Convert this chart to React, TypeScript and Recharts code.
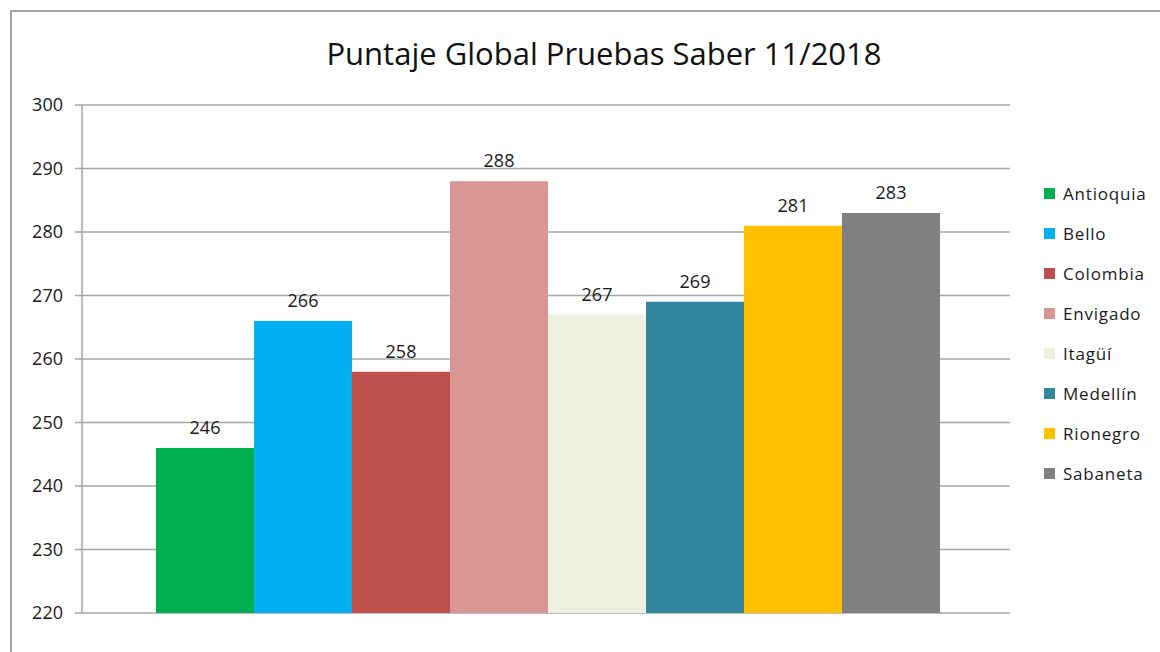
import React from "react";
import { BarChart, Bar, XAxis, YAxis, CartesianGrid, Legend, LabelList } from "recharts";

const TITLE = "Puntaje Global Pruebas Saber 11/2018";
const CATEGORY = "2018";
const SERIES = ["Antioquia", "Bello", "Colombia", "Envigado", "Itagüí", "Medellín", "Rionegro", "Sabaneta"];
const VALUES = [246, 266, 258, 288, 267, 269, 281, 283];
const COLORS = ["#00B050", "#00B0F0", "#C0504D", "#D99694", "#EBF1DE", "#31859C", "#FFC000", "#808080"];
const Y_TICKS = [220, 230, 240, 250, 260, 270, 280, 290, 300];

const FONT = "'Open Sans', 'DejaVu Sans', sans-serif";
const GRID = "#a6a6a6";

const row: Record<string, any> = { name: CATEGORY };
SERIES.forEach((s, i) => { row[s] = VALUES[i]; });
const data = [row];

function LegendBox() {
  return (
    <div style={{ fontFamily: FONT, fontSize: 17, letterSpacing: 0.8, color: "#1a1a1a" }}>
      {SERIES.map((s, i) => (
        <div key={s} style={{ display: "flex", alignItems: "center", height: 40 }}>
          <span style={{ width: 11, height: 11, background: COLORS[i], marginRight: 8, display: "inline-block", flex: "none" }} />
          {s}
        </div>
      ))}
    </div>
  );
}

export default function App() {
  return (
    <div style={{ position: "absolute", left: 0, top: 0, width: 1160, height: 652, overflow: "hidden", background: "#fff" }}>
      <div style={{ position: "absolute", left: 10, top: 10, width: 1300, height: 800, border: "2px solid #a6a6a6" }} />
      <div style={{ position: "absolute", left: 0, top: 32, width: 1208, textAlign: "center", fontFamily: FONT, fontSize: 31, color: "#111" }}>
        {TITLE}
      </div>
      <div style={{ position: "absolute", left: 0, top: 0 }}>
        <BarChart width={1160} height={652} data={data} margin={{ top: 105, right: 35, bottom: 39, left: 22 }}
          barCategoryGap={74} barGap={0}>
          <CartesianGrid stroke={GRID} strokeWidth={1.5} vertical={false} />
          <XAxis dataKey="name" hide />
          <YAxis width={60} domain={[220, 300]} ticks={Y_TICKS} interval={0}
            stroke={GRID} strokeWidth={1.5} tickSize={7} tickMargin={12}
            tick={{ fill: "#1a1a1a", fontSize: 18, fontFamily: FONT }} />
          <Legend layout="vertical" align="right" verticalAlign="top" content={<LegendBox />}
            wrapperStyle={{ left: 1044, top: 173, width: 115 }} />
          {SERIES.map((s, i) => (
            <Bar key={s} dataKey={s} fill={COLORS[i]} isAnimationActive={false}>
              <LabelList dataKey={s} position="top" offset={14}
                style={{ fill: "#1a1a1a", fontSize: 18, fontFamily: FONT }} />
            </Bar>
          ))}
        </BarChart>
      </div>
    </div>
  );
}
